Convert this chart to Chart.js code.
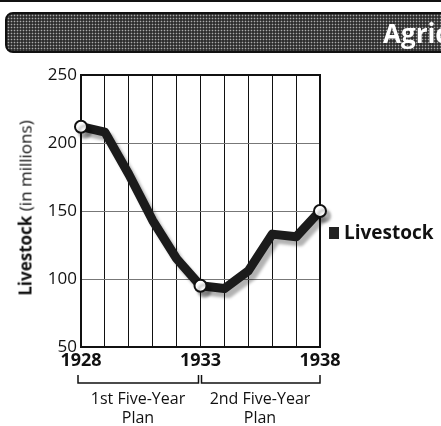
<!DOCTYPE html>
<html>
<head>
<meta charset="utf-8">
<script src="https://cdn.jsdelivr.net/npm/chart.js@4"></script>
<style>
  body { margin: 0; background: #fff; }
  #wrap { position: relative; width: 441px; height: 426px; overflow: hidden; font-family: 'Open Sans', sans-serif; color: #111; }
  #topline { position: absolute; left: 0; top: 0; width: 441px; height: 2px; background: #111; }
  #banner { position: absolute; left: 5px; top: 12px; width: 470px; height: 41px; box-sizing: border-box;
    border: 2px solid #111; border-radius: 8px; background-color: #2e2e2e;
    background-image: radial-gradient(circle, rgba(255,255,255,.6) 0.7px, transparent 1.1px);
    background-size: 3px 3px; }
  #banner span { position: absolute; left: 376px; top: 2px; color: #fff; font-weight: bold; font-size: 26px; line-height: 34px; }
  #ytitle { position: absolute; left: 25px; top: 208px; transform: translate(-50%, -50%) rotate(-90deg);
    white-space: nowrap; font-size: 17px; }
  #legend { position: absolute; left: 329px; top: 220px; font-weight: bold; font-size: 19px; line-height: 24px; white-space: nowrap; }
  #legend i { display: inline-block; width: 10px; height: 12px; background: #222; margin-right: 5px; vertical-align: 0px; }
  .plan { position: absolute; top: 389px; width: 120px; text-align: center; font-size: 16px; line-height: 19px; }
  canvas { position: absolute; left: 0; top: 0; }
</style>
</head>
<body>
<div id="wrap">
  <canvas id="chart" width="441" height="426"></canvas>
  <div id="topline"></div>
  <div id="banner"><span>Agriculture</span></div>
  <div id="ytitle"><b>Livestock</b> (in millions)</div>
  <div id="legend"><i></i>Livestock</div>
  <div class="plan" style="left:78px">1st Five-Year<br>Plan</div>
  <div class="plan" style="left:200px">2nd Five-Year<br>Plan</div>
</div>
<script>
// livestock in millions
const years = [1928, 1929, 1930, 1931, 1932, 1933, 1934, 1935, 1936, 1937, 1938];
const livestock = [212, 208, 177, 143, 115, 95, 93, 106, 133, 131, 150];
const labeledYears = [1928, 1933, 1938];
const markedYears = [1928, 1933, 1938];
const planBreaks = [1928, 1933, 1938];

const ctx = document.getElementById('chart').getContext('2d');

const framePlugin = {
  id: 'frame',
  beforeDatasetsDraw(chart) {
    const a = chart.chartArea, c = chart.ctx;
    c.save();
    c.strokeStyle = '#111';
    c.lineWidth = 2;
    c.strokeRect(a.left, a.top, a.right - a.left, a.bottom - a.top);
    c.restore();
  },
  beforeDatasetDraw(chart) {
    const c = chart.ctx;
    c.save();
    c.shadowColor = 'rgba(0,0,0,0.3)';
    c.shadowOffsetX = 4;
    c.shadowOffsetY = 5;
    c.shadowBlur = 3;
  },
  afterDatasetDraw(chart) {
    chart.ctx.restore();
  },
  afterDraw(chart) {
    // brackets under the axis for the two plans
    const x = chart.scales.x, c = chart.ctx;
    const top = 375, bot = 383;
    c.save();
    c.strokeStyle = '#111';
    c.lineWidth = 1.5;
    for (let i = 0; i < planBreaks.length - 1; i++) {
      const x1 = x.getPixelForValue(planBreaks[i]) + (i === 0 ? -3 : 1);
      const x2 = x.getPixelForValue(planBreaks[i + 1]) + (i === 0 ? -2 : 0);
      c.beginPath();
      c.moveTo(x1, top);
      c.lineTo(x1, bot);
      c.lineTo(x2, bot);
      c.lineTo(x2, top);
      c.stroke();
    }
    c.restore();
  }
};

new Chart(ctx, {
  type: 'line',
  data: {
    datasets: [{
      label: 'Livestock',
      data: years.map((yr, i) => ({ x: yr, y: livestock[i] })),
      borderColor: '#1b1b1b',
      borderWidth: 9,
      borderJoinStyle: 'round',
      fill: false,
      tension: 0,
      clip: false,
      pointRadius: years.map(yr => markedYears.includes(yr) ? 6 : 0),
      pointBackgroundColor: '#fff',
      pointBorderColor: '#111',
      pointBorderWidth: 2
    }]
  },
  options: {
    responsive: false,
    animation: false,
    layout: { padding: { top: 75, right: 121, left: 0, bottom: 0 } },
    plugins: { legend: { display: false }, tooltip: { enabled: false } },
    scales: {
      x: {
        type: 'linear',
        min: 1928,
        max: 1938,
        afterFit(s) { s.height = 79; },
        ticks: {
          stepSize: 1,
          autoSkip: false,
          maxRotation: 0,
          padding: 3,
          color: '#111',
          font: { family: 'Open Sans', size: 18, weight: 'bold' },
          callback: v => labeledYears.includes(v) ? String(v) : ''
        },
        grid: { color: '#111', lineWidth: 1, drawTicks: false },
        border: { display: false }
      },
      y: {
        min: 50,
        max: 250,
        afterFit(s) { s.width = 81; },
        ticks: {
          stepSize: 50,
          padding: 4,
          color: '#111',
          font: { family: 'Open Sans', size: 17 }
        },
        grid: { color: '#777', lineWidth: 1, drawTicks: false },
        border: { display: false }
      }
    }
  },
  plugins: [framePlugin]
});
</script>
</body>
</html>
